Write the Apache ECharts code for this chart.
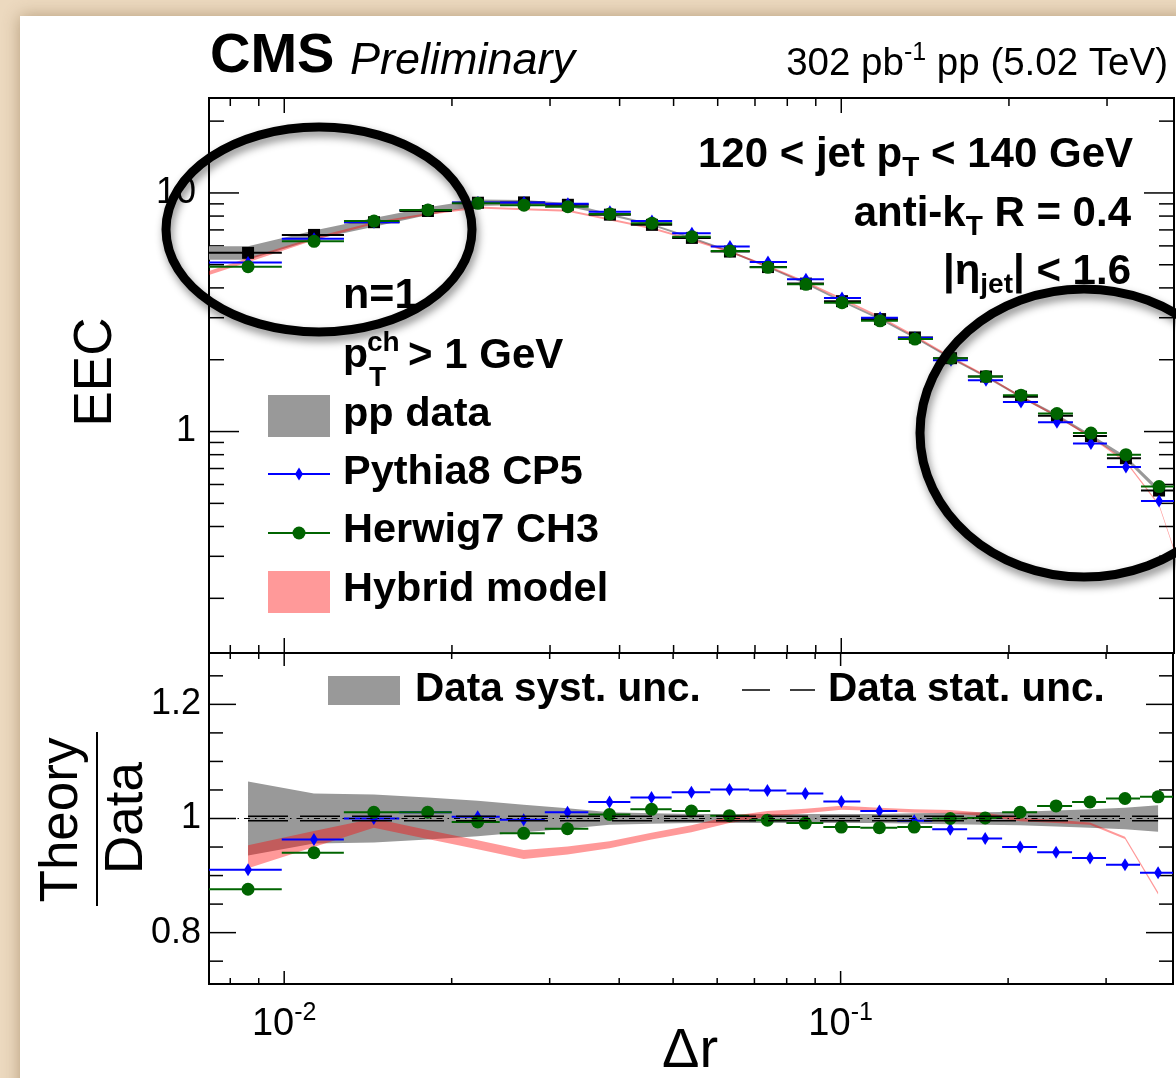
<!DOCTYPE html>
<html>
<head>
<meta charset="utf-8">
<script src="https://cdn.jsdelivr.net/npm/echarts@6/dist/echarts.min.js"></script>
<style>
html, body { margin: 0; padding: 0; background: #ecd9bf; }
#main { width: 1176px; height: 1078px; }
</style>
</head>
<body>
<div id="main"></div>
<script>
// delta r binning
var binEdges = [0.007326, 0.0099, 0.0128, 0.0161, 0.0200, 0.0244, 0.0294, 0.0352, 0.0419, 0.0497, 0.0583,
  0.0685, 0.0799, 0.0931, 0.1085, 0.1264, 0.1461, 0.1688, 0.1951, 0.2255, 0.2606, 0.2999, 0.3452, 0.3957];
var binCenters = [0.00861, 0.01131, 0.01449, 0.01811, 0.02227, 0.02694, 0.0323, 0.03843, 0.04572, 0.05393,
  0.06312, 0.07386, 0.08641, 0.1003, 0.1174, 0.1356, 0.1574, 0.1819, 0.2102, 0.2439, 0.2807, 0.3244, 0.372];

// upper panel: EEC
var eecData = [5.61, 6.67, 7.54, 8.40, 9.10, 9.13, 8.92, 8.11, 7.35, 6.48, 5.68, 4.89, 4.17, 3.52, 2.96,
  2.48, 2.03, 1.70, 1.40, 1.164, 0.957, 0.773, 0.566];
var eecPythia = [5.11, 6.42, 7.54, 8.49, 9.13, 9.11, 9.02, 8.35, 7.62, 6.78, 5.97, 5.13, 4.35, 3.63, 3.00,
  2.47, 1.99, 1.64, 1.33, 1.095, 0.891, 0.710, 0.512];
var eecHerwig = [4.91, 6.27, 7.62, 8.49, 9.05, 8.89, 8.76, 8.17, 7.47, 6.56, 5.71, 4.88, 4.14, 3.47, 2.91,
  2.44, 2.03, 1.70, 1.42, 1.19, 0.985, 0.80, 0.588];
var hybridTopX = [0.007326, 0.00861, 0.01131, 0.01449, 0.01811, 0.02227, 0.02694, 0.0323, 0.03843, 0.04572,
  0.05393, 0.06312, 0.07386, 0.08641, 0.1003, 0.1174, 0.1356, 0.1574, 0.1819, 0.2102, 0.2439, 0.2807, 0.3244,
  0.372, 0.3957];
var hybridTopEEC = [4.62, 5.23, 6.43, 7.48, 8.16, 8.68, 8.55, 8.42, 7.74, 7.12, 6.36, 5.67, 4.93, 4.22, 3.59,
  3.01, 2.51, 2.05, 1.71, 1.40, 1.158, 0.948, 0.747, 0.492, 0.32];
var hybridTopUnc = [0.02, 0.02, 0.014, 0.008, 0.008, 0.008, 0.008, 0.007, 0.006, 0.006, 0.006, 0.006, 0.005,
  0.004, 0.0035, 0.003, 0.003, 0.003, 0.003, 0.003, 0.003, 0.002, 0.002, 0.002, 0.002];

// uncertainties on data (relative)
var systUnc = [0.065, 0.044, 0.042, 0.037, 0.031, 0.024, 0.018, 0.011, 0.009, 0.008, 0.008, 0.008, 0.008,
  0.008, 0.008, 0.009, 0.010, 0.011, 0.012, 0.014, 0.016, 0.019, 0.023];
var statUnc = [0.004, 0.004, 0.004, 0.004, 0.004, 0.004, 0.004, 0.004, 0.004, 0.004, 0.004, 0.004, 0.004,
  0.004, 0.004, 0.004, 0.004, 0.004, 0.004, 0.004, 0.004, 0.004, 0.004];

// lower panel: theory / data
var ratioPythia = [0.910, 0.963, 1.000, 1.011, 1.003, 0.998, 1.011, 1.029, 1.037, 1.046, 1.051, 1.049, 1.044,
  1.030, 1.013, 0.996, 0.981, 0.965, 0.950, 0.941, 0.931, 0.919, 0.905];
var ratioHerwig = [0.876, 0.940, 1.011, 1.011, 0.994, 0.974, 0.982, 1.007, 1.016, 1.013, 1.005, 0.997, 0.992,
  0.985, 0.984, 0.985, 1.000, 1.001, 1.011, 1.022, 1.029, 1.035, 1.038];
var ratioHybrid = [0.933, 0.964, 0.992, 0.972, 0.954, 0.937, 0.944, 0.954, 0.969, 0.982, 0.998, 1.008, 1.013,
  1.019, 1.016, 1.013, 1.012, 1.007, 0.998, 0.995, 0.991, 0.966, 0.869];
var hybridUnc = [0.020, 0.014, 0.008, 0.008, 0.008, 0.008, 0.007, 0.006, 0.006, 0.006, 0.006, 0.005, 0.004,
  0.0035, 0.003, 0.003, 0.003, 0.003, 0.003, 0.003, 0.002, 0.002, 0.002];

// axis ticks
var xMajorTicks = [0.01, 0.1];
var xMinorTicks = [0.008, 0.009, 0.02, 0.03, 0.04, 0.05, 0.06, 0.07, 0.08, 0.09, 0.2, 0.3];
var yTopMajorTicks = [1, 10];
var yTopMinorTicks = [0.2, 0.3, 0.4, 0.5, 0.6, 0.7, 0.8, 0.9, 2, 3, 4, 5, 6, 7, 8, 9, 20];
var yRatioMajorTicks = [0.8, 1, 1.2];
var yRatioMinorTicks = [0.75, 0.85, 0.9, 0.95, 1.05, 1.1, 1.15, 1.25];

var FONT = '"Liberation Sans", Arial, Helvetica, sans-serif';
var BLUE = '#0000ff', GREEN = '#006400', GRAY = '#999999', PINK = 'rgba(255,0,0,0.4)';

function ln(x1, y1, x2, y2, color, w, dash) {
    return {type: 'line', shape: {x1: x1, y1: y1, x2: x2, y2: y2},
        style: {stroke: color || '#000', lineWidth: w || 1.5, lineDash: dash || null}};
}

// frame ticks, ROOT style (on all four sides, pointing in)
function tickRender(xMaj, xMin, yMaj, yMin, len) {
    return function (params, api) {
        var cs = params.coordSys;
        var top = cs.y, bot = cs.y + cs.height, left = cs.x, right = cs.x + cs.width;
        var kids = [];
        function xt(v, L) {
            var px = api.coord([v, yMaj[0]])[0];
            kids.push(ln(px, bot, px, bot - L));
            kids.push(ln(px, top, px, top + L));
        }
        function yt(v, L) {
            var py = api.coord([xMaj[0], v])[1];
            kids.push(ln(left, py, left + L, py));
            kids.push(ln(right, py, right - L, py));
        }
        xMaj.forEach(function (v) { xt(v, len[0]) });
        xMin.forEach(function (v) { xt(v, len[1]) });
        yMaj.forEach(function (v) { yt(v, len[2]) });
        yMin.forEach(function (v) { yt(v, len[3]) });
        return {type: 'group', children: kids};
    };
}

// filled band through xs, ys +- unc
function bandRender(xs, ys, unc, color, rel, minHalf) {
    return function (params, api) {
        if (params.dataIndex !== 0) return null;
        var up = [], dn = [];
        for (var i = 0; i < xs.length; i++) {
            var c = api.coord([xs[i], ys[i]]);
            var hi = rel ? ys[i] * (1 + unc[i]) : ys[i] + unc[i];
            var lo = rel ? ys[i] * (1 - unc[i]) : ys[i] - unc[i];
            var pu = api.coord([xs[i], hi])[1], pd = api.coord([xs[i], lo])[1];
            up.push([c[0], Math.min(pu, c[1] - minHalf)]);
            dn.unshift([c[0], Math.max(pd, c[1] + minHalf)]);
        }
        return {type: 'polygon', shape: {points: up.concat(dn)}, style: {fill: color}};
    };
}

function marker(kind, x, y, color) {
    if (kind === 'square') return {type: 'rect', shape: {x: x - 6, y: y - 6, width: 12, height: 12}, style: {fill: color}};
    if (kind === 'circle') return {type: 'circle', shape: {cx: x, cy: y, r: 6.5}, style: {fill: color}};
    return {type: 'polygon', shape: {points: [[x, y - 6.5], [x + 4, y], [x, y + 6.5], [x - 4, y]]}, style: {fill: color}};
}

// point with horizontal bin-width bar
function pointRender(kind, color) {
    return function (params, api) {
        var p = api.coord([api.value(0), api.value(1)]);
        var a = api.coord([api.value(2), api.value(1)]);
        var b = api.coord([api.value(3), api.value(1)]);
        return {type: 'group', children: [ln(a[0], p[1], b[0], p[1], color, 2), marker(kind, p[0], p[1], color)]};
    };
}

function pointData(ys) {
    return binCenters.map(function (x, i) { return [x, ys[i], binEdges[i], binEdges[i + 1]]; });
}

function near(v, t) { return Math.abs(v - t) < 1e-6 * Math.max(1, t); }

function txt(x, y, text, size, opt) {
    opt = opt || {};
    var rich = {};
    if (opt.rich) {
        for (var k in opt.rich) {
            var r = opt.rich[k];
            rich[k] = {fontSize: r[0], fontWeight: opt.weight || 'normal', fontStyle: 'normal', fontFamily: FONT,
                fill: '#000', padding: r[1]};
        }
    }
    return {type: 'text', x: x, y: y, rotation: opt.rot || 0, z: 50, silent: true,
        style: {text: text, fill: '#000', fontSize: size, fontFamily: FONT, fontWeight: opt.weight || 'normal',
            fontStyle: opt.italic ? 'italic' : 'normal', align: opt.align || 'left', textAlign: opt.align || 'left',
            verticalAlign: 'middle', textVerticalAlign: 'middle', rich: rich}};
}

var sub = [28, [26, 0, 0, 0]];
var graphics = [
    {type: 'rect', z: -100, silent: true, shape: {x: 20, y: 16, width: 1170, height: 1080},
        style: {fill: '#ffffff', shadowBlur: 16, shadowColor: 'rgba(110,80,40,0.45)'}},
    txt(210, 57, 'CMS', 56, {weight: 'bold'}),
    txt(350, 61, 'Preliminary', 45, {italic: true}),
    txt(1168, 64, '{m|302 pb}{s|-1}{m| pp (5.02 TeV)}', 38.5, {align: 'right', rich: {m: [38.5, 0], s: [25, [0, 0, 22, 0]]}}),
    txt(1133, 155, '{m|120 < jet p}{s|T}{m| < 140 GeV}', 42, {align: 'right', weight: 'bold', rich: {m: [42, 0], s: sub}}),
    txt(1131, 214, '{m|anti-k}{s|T}{m| R = 0.4}', 42, {align: 'right', weight: 'bold', rich: {m: [42, 0], s: sub}}),
    txt(1131, 272, '{m|\u007c\u03b7}{s|jet}{m|\u007c < 1.6}', 42, {align: 'right', weight: 'bold', rich: {m: [42, 0], s: sub}}),
    txt(343, 296, 'n=1', 43, {weight: 'bold'}),
    txt(343, 356, 'p', 41, {weight: 'bold'}),
    txt(367, 343, 'ch', 28, {weight: 'bold'}),
    txt(369, 378, 'T', 28, {weight: 'bold'}),
    txt(408, 356, '> 1 GeV', 42, {weight: 'bold'}),
    // legend, upper panel
    {type: 'rect', z: 40, shape: {x: 268, y: 395, width: 62, height: 42}, style: {fill: GRAY}},
    ln(268, 416, 330, 416, '#000', 2),
    marker('square', 299, 416, '#000'),
    ln(268, 474, 330, 474, BLUE, 2),
    marker('diamond', 299, 474, BLUE),
    ln(268, 533, 330, 533, GREEN, 2),
    marker('circle', 299, 533, GREEN),
    {type: 'rect', z: 40, shape: {x: 268, y: 571, width: 62, height: 42}, style: {fill: PINK}},
    txt(343, 415, 'pp data', 41.5, {weight: 'bold'}),
    txt(343, 473, 'Pythia8 CP5', 41.5, {weight: 'bold'}),
    txt(343, 531, 'Herwig7 CH3', 41.5, {weight: 'bold'}),
    txt(343, 590, 'Hybrid model', 41.5, {weight: 'bold'}),
    // legend, lower panel
    {type: 'rect', z: 40, shape: {x: 328, y: 676, width: 72, height: 29}, style: {fill: GRAY}},
    txt(415, 690, 'Data syst. unc.', 40.5, {weight: 'bold'}),
    ln(742, 690, 770, 690, '#000', 1.5),
    ln(790, 690, 815, 690, '#000', 1.5),
    txt(828, 690, 'Data stat. unc.', 40.5, {weight: 'bold'}),
    // axis titles
    txt(96, 372, 'EEC', 53, {align: 'center', rot: Math.PI / 2}),
    txt(62, 820, 'Theory', 53, {align: 'center', rot: Math.PI / 2}),
    txt(127, 818, 'Data', 53, {align: 'center', rot: Math.PI / 2}),
    ln(97, 732, 97, 906, '#000', 2),
    txt(690, 1052, '\u0394r', 56, {align: 'center'}),
    // hand drawn highlight ellipses
    {type: 'ellipse', z: 200, silent: true, shape: {cx: 319, cy: 229.5, rx: 153, ry: 102.5},
        style: {fill: 'none', stroke: '#000', lineWidth: 9, shadowBlur: 8, shadowColor: 'rgba(0,0,0,0.45)',
            shadowOffsetX: 2, shadowOffsetY: 5}},
    {type: 'ellipse', z: 200, silent: true, shape: {cx: 1084, cy: 433, rx: 164, ry: 144},
        style: {fill: 'none', stroke: '#000', lineWidth: 9, shadowBlur: 8, shadowColor: 'rgba(0,0,0,0.45)',
            shadowOffsetX: 2, shadowOffsetY: 5}}
];

var baseAxis = {
    axisLine: {show: false}, axisTick: {show: false}, splitLine: {show: false}
};

var option = {
    backgroundColor: '#ecd9bf',
    animation: false,
    textStyle: {fontFamily: FONT},
    grid: [
        {left: 209, top: 98, width: 965, height: 555, show: true, borderColor: '#000', borderWidth: 2},
        {left: 209, top: 653, width: 965, height: 331, show: true, borderColor: '#000', borderWidth: 2}
    ],
    xAxis: [
        Object.assign({type: 'log', gridIndex: 0, min: binEdges[0], max: binEdges[binEdges.length - 1],
            axisLabel: {show: false}}, baseAxis),
        Object.assign({type: 'log', gridIndex: 1, min: binEdges[0], max: binEdges[binEdges.length - 1],
            axisLabel: {
                margin: 17, color: '#000',
                formatter: function (v) {
                    var e = Math.round(Math.log10(v));
                    if (Math.abs(Math.log10(v) - e) < 1e-6 && (e === -2 || e === -1)) return '{b|10}{s|' + e + '}';
                    return '';
                },
                rich: {
                    b: {fontSize: 38, fontFamily: FONT, color: '#000'},
                    s: {fontSize: 25, fontFamily: FONT, color: '#000', padding: [0, 0, 22, 0]}
                }
            }}, baseAxis)
    ],
    yAxis: [
        Object.assign({type: 'log', gridIndex: 0, min: 0.118, max: 25,
            axisLabel: {
                margin: 13, fontSize: 36, color: '#000', fontFamily: FONT,
                formatter: function (v) {
                    if (near(v, 1)) return '1';
                    if (near(v, 10)) return '10';
                    return '';
                }
            }}, baseAxis),
        Object.assign({type: 'value', gridIndex: 1, min: 0.71, max: 1.29,
            axisLabel: {
                margin: 8, fontSize: 36, color: '#000', fontFamily: FONT,
                formatter: function (v) {
                    if (near(v, 0.8)) return '0.8';
                    if (near(v, 1)) return '1';
                    if (near(v, 1.2)) return '1.2';
                    return '';
                }
            }}, baseAxis)
    ],
    graphic: {elements: graphics},
    series: [
        {type: 'custom', xAxisIndex: 0, yAxisIndex: 0, data: [[0.05, 1]], silent: true,
            renderItem: tickRender(xMajorTicks, xMinorTicks, yTopMajorTicks, yTopMinorTicks, [15, 8, 30, 15])},
        {type: 'custom', name: 'syst', xAxisIndex: 0, yAxisIndex: 0, data: [[binCenters[0], eecData[0]]], silent: true,
            renderItem: bandRender([binEdges[0]].concat(binCenters), [eecData[0]].concat(eecData),
                [systUnc[0]].concat(systUnc), GRAY, true, 1)},
        {type: 'custom', name: 'Hybrid model', xAxisIndex: 0, yAxisIndex: 0, data: [[hybridTopX[0], hybridTopEEC[0]]], silent: true,
            renderItem: bandRender(hybridTopX, hybridTopEEC, hybridTopUnc, PINK, true, 1)},
        {type: 'custom', name: 'pp data', xAxisIndex: 0, yAxisIndex: 0, data: pointData(eecData),
            renderItem: pointRender('square', '#000')},
        {type: 'custom', name: 'Pythia8 CP5', xAxisIndex: 0, yAxisIndex: 0, data: pointData(eecPythia),
            renderItem: pointRender('diamond', BLUE)},
        {type: 'custom', name: 'Herwig7 CH3', xAxisIndex: 0, yAxisIndex: 0, data: pointData(eecHerwig),
            renderItem: pointRender('circle', GREEN)},

        {type: 'custom', xAxisIndex: 1, yAxisIndex: 1, data: [[0.05, 1]], silent: true,
            renderItem: tickRender(xMajorTicks, xMinorTicks, yRatioMajorTicks, yRatioMinorTicks, [13, 6, 27, 14])},
        {type: 'custom', xAxisIndex: 1, yAxisIndex: 1, data: [[binCenters[0], 1]], silent: true,
            renderItem: bandRender(binCenters, binCenters.map(function () { return 1; }), systUnc, GRAY, false, 0)},
        {type: 'line', xAxisIndex: 1, yAxisIndex: 1, symbol: 'none', silent: true,
            data: binCenters.map(function (x, i) { return [x, 1 + statUnc[i]]; }),
            lineStyle: {color: '#000', width: 1.5, type: [40, 12]}},
        {type: 'line', xAxisIndex: 1, yAxisIndex: 1, symbol: 'none', silent: true,
            data: binCenters.map(function (x, i) { return [x, 1 - statUnc[i]]; }),
            lineStyle: {color: '#000', width: 1.5, type: [40, 12]},
            markLine: {silent: true, symbol: 'none', label: {show: false},
                lineStyle: {color: '#000', width: 1.2, type: [6, 5, 1.5, 5]}, data: [{yAxis: 1}]}},
        {type: 'custom', xAxisIndex: 1, yAxisIndex: 1, data: [[binCenters[0], ratioHybrid[0]]], silent: true,
            renderItem: bandRender(binCenters, ratioHybrid, hybridUnc, PINK, false, 1)},
        {type: 'custom', xAxisIndex: 1, yAxisIndex: 1, data: pointData(ratioPythia),
            renderItem: pointRender('diamond', BLUE)},
        {type: 'custom', xAxisIndex: 1, yAxisIndex: 1, data: pointData(ratioHerwig),
            renderItem: pointRender('circle', GREEN)}
    ]
};

var chart = echarts.init(document.getElementById('main'));
chart.setOption(option);
</script>
</body>
</html>
